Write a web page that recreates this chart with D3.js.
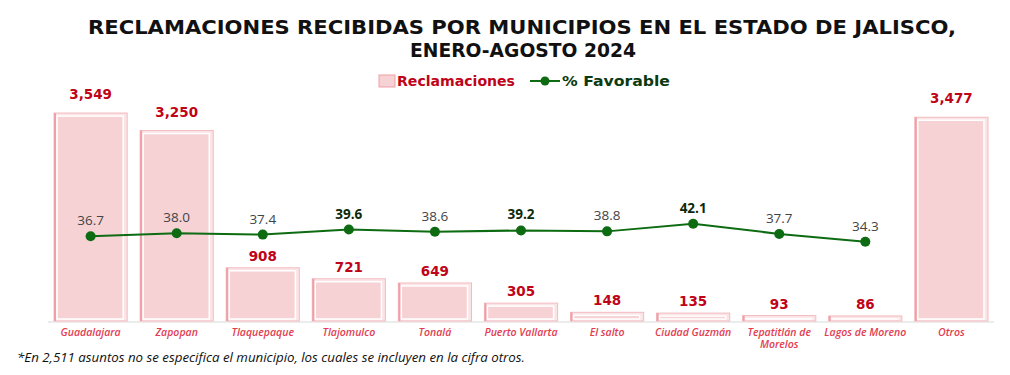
<!DOCTYPE html>
<html>
<head>
<meta charset="utf-8">
<script src="https://cdn.jsdelivr.net/npm/d3@7"></script>
<style>
  body { margin: 0; background: #fff; }
  text { font-family: "Open Sans", "DejaVu Sans", sans-serif; }
  .wide { font-family: "DejaVu Sans", "Open Sans", sans-serif; }
</style>
</head>
<body>
<div id="chart"></div>
<script>
// data
const municipios = ["Guadalajara", "Zapopan", "Tlaquepaque", "Tlajomulco", "Tonalá", "Puerto Vallarta",
    "El salto", "Ciudad Guzmán", "Tepatitlán de Morelos", "Lagos de Moreno", "Otros"];
const reclamaciones = [3549, 3250, 908, 721, 649, 305, 148, 135, 93, 86, 3477];
const favorableNames = ["Guadalajara", "Zapopan", "Tlaquepaque", "Tlajomulco", "Tonalá", "Puerto Vallarta",
    "El salto", "Ciudad Guzmán", "Tepatitlán de Morelos", "Lagos de Moreno"];
const favorable = [36.7, 38.0, 37.4, 39.6, 38.6, 39.2, 38.8, 42.1, 37.7, 34.3];
const favorableBold = [false, false, false, true, false, true, false, true, false, false];

function draw() {
    const width = 1010, height = 375;
    const margin = { left: 48, right: 16 };
    const baseY = 321;

    const svg = d3.select("#chart")
        .html("")
        .append("svg")
        .attr("width", width)
        .attr("height", height);

    // title
    const title = svg.append("text")
        .attr("class", "wide")
        .attr("text-anchor", "middle")
        .style("font-size", "20px")
        .style("font-weight", "700")
        .style("fill", "#111");
    title.append("tspan").attr("x", 522).attr("y", 34)
        .attr("textLength", 868)
        .attr("lengthAdjust", "spacingAndGlyphs")
        .text("RECLAMACIONES RECIBIDAS POR MUNICIPIOS EN EL ESTADO DE JALISCO,");
    title.append("tspan").attr("x", 523).attr("y", 57)
        .attr("textLength", 226)
        .attr("lengthAdjust", "spacingAndGlyphs")
        .text("ENERO-AGOSTO 2024");

    const x = d3.scaleBand()
        .domain(municipios)
        .range([margin.left, width - margin.right])
        .paddingInner(0.15)
        .paddingOuter(0.07);

    const y = d3.scaleLinear()
        .domain([0, 3800])
        .range([baseY, baseY - 3800 * 0.0586]);

    const y2 = d3.scaleLinear()
        .domain([0, 100])
        .range([baseY, baseY - 231]);

    // baseline
    svg.append("line")
        .attr("x1", margin.left).attr("x2", width - margin.right)
        .attr("y1", baseY + 1).attr("y2", baseY + 1)
        .attr("stroke", "#e6e6e6")
        .attr("stroke-width", 1.5);

    // bars
    const bars = svg.append("g").selectAll("g")
        .data(municipios)
        .join("g");

    bars.append("rect")
        .attr("x", d => x(d))
        .attr("y", (d, i) => y(reclamaciones[i]))
        .attr("width", x.bandwidth())
        .attr("height", (d, i) => baseY - y(reclamaciones[i]))
        .attr("fill", "#fbe4e6")
        .attr("stroke", "#f3bcc1")
        .attr("stroke-width", 1);

    bars.append("rect")
        .attr("x", d => x(d) + 3)
        .attr("y", (d, i) => y(reclamaciones[i]) + 3)
        .attr("width", x.bandwidth() - 7)
        .attr("height", (d, i) => Math.max(0, baseY - y(reclamaciones[i]) - 5))
        .attr("fill", "#f6d2d5")
        .attr("stroke", "#fff")
        .attr("stroke-width", 1.5);

    bars.append("line")
        .attr("x1", d => x(d) + 1).attr("x2", d => x(d) + 1)
        .attr("y1", (d, i) => y(reclamaciones[i]))
        .attr("y2", baseY)
        .attr("stroke", "#ef9fa6")
        .attr("stroke-width", 2);

    // value labels sit a little higher over the tall bars
    bars.append("text")
        .attr("class", "wide")
        .attr("x", d => x(d) + x.bandwidth() / 2)
        .attr("y", (d, i) => y(reclamaciones[i]) - (reclamaciones[i] > 3000 ? 14 : 7))
        .attr("text-anchor", "middle")
        .style("font-size", "13.5px")
        .style("font-weight", "700")
        .style("fill", "#c00418")
        .text((d, i) => d3.format(",")(reclamaciones[i]));

    // category labels
    const labels = svg.append("g").selectAll("text")
        .data(municipios)
        .join("text")
        .attr("x", d => x(d) + x.bandwidth() / 2)
        .attr("y", 336)
        .attr("text-anchor", "middle")
        .style("font-size", "10.5px")
        .style("font-style", "italic")
        .style("font-weight", "600")
        .style("fill", "#e23c51");

    labels.each(function(d) {
        const t = d3.select(this);
        const parts = d === "Tepatitlán de Morelos" ? ["Tepatitlán de", "Morelos"] : [d];
        parts.forEach((p, k) => {
            t.append("tspan")
                .attr("x", x(d) + x.bandwidth() / 2)
                .attr("dy", k === 0 ? 0 : 12)
                .text(p);
        });
    });

    // % favorable line
    const cx = d => x(d) + x.bandwidth() / 2;
    svg.append("path")
        .datum(favorable)
        .attr("fill", "none")
        .attr("stroke", "#0d6b12")
        .attr("stroke-width", 2)
        .attr("d", d3.line()
            .x((d, i) => cx(favorableNames[i]))
            .y(d => y2(d)));

    svg.append("g").selectAll("circle")
        .data(favorable)
        .join("circle")
        .attr("cx", (d, i) => cx(favorableNames[i]))
        .attr("cy", d => y2(d))
        .attr("r", 5)
        .attr("fill", "#0d6b12");

    svg.append("g").selectAll("text")
        .data(favorable)
        .join("text")
        .attr("x", (d, i) => cx(favorableNames[i]))
        .attr("y", d => y2(d) - 11)
        .attr("text-anchor", "middle")
        .style("font-size", "13.5px")
        .style("font-weight", (d, i) => favorableBold[i] ? "700" : "400")
        .style("fill", (d, i) => favorableBold[i] ? "#0b2a0b" : "#444")
        .text(d => d.toFixed(1));

    // legend
    const lg = svg.append("g");
    lg.append("rect")
        .attr("x", 379).attr("y", 75)
        .attr("width", 16).attr("height", 12)
        .attr("fill", "#f6d2d5")
        .attr("stroke", "#ef9fa6")
        .attr("stroke-width", 1);
    lg.append("text")
        .attr("class", "wide")
        .attr("x", 397).attr("y", 86)
        .attr("textLength", 118)
        .attr("lengthAdjust", "spacingAndGlyphs")
        .style("font-size", "14.5px")
        .style("font-weight", "700")
        .style("fill", "#c00418")
        .text("Reclamaciones");
    lg.append("line")
        .attr("x1", 530).attr("x2", 560)
        .attr("y1", 81).attr("y2", 81)
        .attr("stroke", "#0d6b12")
        .attr("stroke-width", 2);
    lg.append("circle")
        .attr("cx", 545).attr("cy", 81).attr("r", 4.5)
        .attr("fill", "#0d6b12");
    lg.append("text")
        .attr("class", "wide")
        .attr("x", 562).attr("y", 86)
        .attr("textLength", 108)
        .attr("lengthAdjust", "spacingAndGlyphs")
        .style("font-size", "14.5px")
        .style("font-weight", "700")
        .style("fill", "#0b3a0e")
        .text("% Favorable");

    // footnote
    svg.append("text")
        .attr("x", 17).attr("y", 362)
        .style("font-size", "13.3px")
        .style("font-style", "italic")
        .style("fill", "#111")
        .text("*En 2,511 asuntos no se especifica el municipio, los cuales se incluyen en la cifra otros.");
}

window.onload = draw;
</script>
</body>
</html>
